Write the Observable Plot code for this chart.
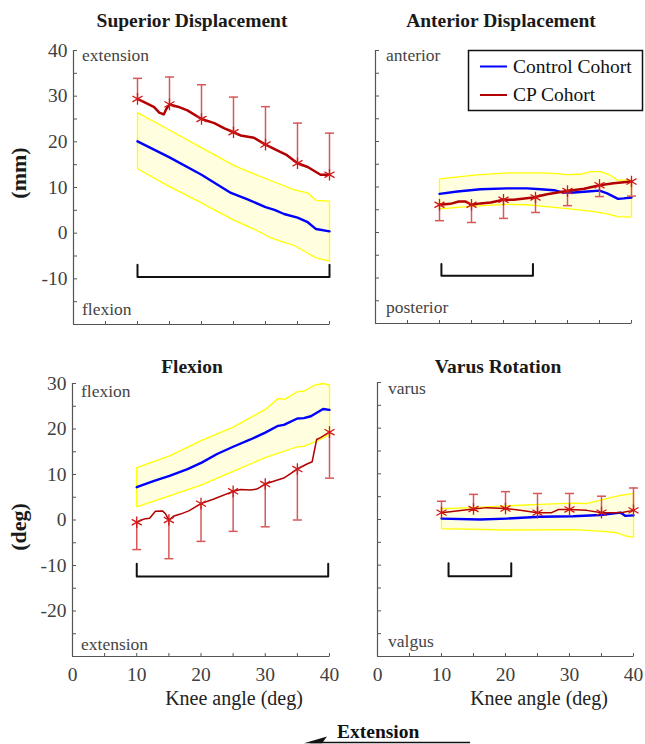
<!DOCTYPE html>
<html><head><meta charset="utf-8">
<script src="https://cdn.jsdelivr.net/npm/d3@7"></script>
<script src="https://cdn.jsdelivr.net/npm/@observablehq/plot@0.6"></script>
<style>
body{margin:0;background:#fff;}
#fig{position:relative;width:645px;height:744px;overflow:hidden;font-family:"Liberation Serif","Times New Roman",serif;}
.panel{position:absolute;}
#overlay{position:absolute;left:0;top:0;pointer-events:none;}
</style></head>
<body><div id="fig"></div>
<script>
// ---------------- data ----------------
const kneeMarks = [10, 15, 20, 25, 30, 35, 40];
const xTickValues = [0, 5, 10, 15, 20, 25, 30, 35, 40];
const xTickLabels = [0, 10, 20, 30, 40];
const topYLabels = [-10, 0, 10, 20, 30, 40];
const botYLabels = [-20, -10, 0, 10, 20, 30];

// Superior Displacement (mm)
const supControl = [[10,20.1],[15,16.6],[20,12.8],[24.6,8.8],[27.2,7.4],[30,5.7],[31.4,5.1],[32.9,4.2],[35,3.4],[36.6,2.4],[37.9,0.9],[40,0.4]];
const supUpper = [[10,26.4],[14.7,22.8],[19.9,18.8],[25.1,14.8],[28.2,13.0],[31.4,11.2],[34.5,9.5],[36.6,8.8],[37.9,7.2],[40,7.0]];
const supLower = [[10,14.1],[14.7,10.4],[19.9,6.7],[25.1,2.8],[28.2,0.9],[30.8,-1.0],[32.4,-1.8],[34.5,-2.7],[36.6,-4.4],[37.9,-5.4],[40,-6.1]];
const supCP = [[10,29.4],[11.6,28.3],[12.6,27.6],[13.4,26.4],[14.1,26.0],[14.5,27.2],[15,28.2],[16.3,27.7],[17.8,26.9],[20,25.0],[22,24.1],[23.5,23.0],[25,22.1],[26.1,21.4],[28.2,20.9],[30,19.4],[31.9,18.1],[33.2,17.2],[35,15.3],[36.6,14.5],[38.6,12.8],[40,12.8]];
const supCPMean = [29.4, 28.2, 25.0, 22.1, 19.4, 15.3, 12.8];
const supCPErr = [33.9, 34.2, 32.5, 29.8, 27.7, 24.1, 21.9];
const supSig = [10, 40];
const supSigY = [-6.9, -9.6];

// Anterior Displacement (mm)
const antControl = [[10,8.5],[12.8,9.0],[16.4,9.5],[20.6,9.7],[23.7,9.7],[25.8,9.5],[27.9,9.3],[29.2,8.8],[31,8.8],[33.1,9.0],[35,9.2],[36.2,8.6],[37.9,7.4],[38.8,7.5],[40,7.7]];
const antUpper = [[10,11.8],[15.4,12.6],[20.6,13.1],[25.8,13.1],[27.9,13.0],[29.9,12.7],[32,12.8],[33.6,13.4],[35.2,13.4],[36.7,12.6],[37.8,11.5],[40,11.5]];
const antLower = [[10,5.2],[15.4,5.8],[20.6,6.2],[23.7,6.1],[27.9,5.5],[31,5.1],[34.1,4.6],[36.2,4.1],[37.8,3.5],[40,3.4]];
const antCP = [[10,6.1],[11.7,6.3],[13,6.8],[14.1,6.8],[15,6.1],[16.4,6.4],[18,6.6],[20,7.2],[21.6,7.2],[24.6,7.7],[26.8,8.4],[29.9,9.1],[32.6,9.6],[35,10.4],[37.2,10.8],[40,11.2]];
const antCPMean = [6.1, 6.1, 7.2, 7.7, 9.1, 10.4, 11.2];
const antCPErr = [2.6, 2.2, 3.1, 4.4, 5.9, 7.9, 8.0];
const antSig = [10.3, 24.6];
const antSigY = [-6.9, -9.5];

// Flexion (deg)
const flxControl = [[10,7.2],[12.7,8.6],[15.1,9.7],[17.9,11.2],[20.1,12.6],[22.5,14.5],[25,16.1],[27.7,17.7],[30,19.2],[32,20.7],[32.9,20.9],[35,22.3],[36,22.4],[37.1,22.8],[39,24.4],[40,24.2]];
const flxUpper = [[10,11.5],[15.1,14.1],[20.1,17.5],[25,20.4],[30,24.3],[32,26.7],[33,26.5],[35,28.2],[36,28.3],[37.6,29.6],[38.9,30.0],[40,29.7]];
const flxLower = [[10,2.9],[15.1,5.3],[20.1,7.7],[25,10.7],[30,13.7],[35,16.1],[36,16.2],[38.1,17.4],[40,18.7]];
const flxCP = [[10,-0.5],[11.1,0.2],[12,0.4],[12.9,1.9],[14,2.0],[14.5,1.3],[15,0.0],[15.8,0.9],[16.8,1.3],[18.1,2.0],[20,3.6],[22,4.6],[25,6.3],[26.2,6.7],[27.7,6.6],[28.7,6.8],[30,7.9],[31.9,8.8],[33,9.3],[35,11.2],[36.5,12.3],[37.3,12.8],[38,17.7],[38.6,18.1],[40,19.3]];
const flxCPMean = [-0.5, 0.0, 3.6, 6.3, 7.9, 11.2, 19.3];
const flxCPErr = [-6.5, -8.5, -4.7, -2.5, -1.5, 0.0, 9.2];
const flxSig = [10, 39.8];
const flxSigY = [-9.6, -12.4];

// Varus Rotation (deg)
const varControl = [[10,0.2],[16,0.0],[20.2,0.2],[25.4,0.6],[30.6,0.7],[34.8,1.0],[38,1.5],[38.7,0.8],[40,0.9]];
const varUpper = [[10,2.4],[15,2.6],[20.1,3.0],[25.4,3.3],[30.6,3.6],[32.7,3.5],[35.3,4.4],[37.9,5.3],[40,5.7]];
const varLower = [[10,-2.0],[20.2,-2.3],[30.6,-2.2],[35.3,-2.6],[37.4,-2.9],[38.7,-3.6],[40,-3.9]];
const varCP = [[10,1.5],[15,2.3],[17.1,2.6],[20,2.4],[22.3,2.0],[25,1.5],[27.2,1.5],[28.3,2.2],[30,2.2],[32.7,2.0],[35,1.5],[37.4,1.5],[38.4,1.6],[40,2.0]];
const varCPMean = [1.5, 2.3, 2.4, 1.5, 2.2, 1.5, 2.0];
const varCPErr = [4.0, 5.5, 6.1, 5.7, 5.7, 5.1, 6.9];
const varSig = [11.1, 20.9];
const varSigY = [-9.6, -12.4];

// ---------------- drawing ----------------
const FONT = '"Liberation Serif","Times New Roman",serif';
const AXIS = "#555";
const capSymbol = {draw(ctx) { ctx.moveTo(-4.5, 0); ctx.lineTo(4.5, 0); }};
const yTickSym = {draw(ctx) { ctx.moveTo(0, 0); ctx.lineTo(3.5, 0); }};
const xTickSym = {draw(ctx) { ctx.moveTo(0, 0); ctx.lineTo(0, -3.5); }};
const fig = document.getElementById("fig");

function panel(cfg) {
  const rows = kneeMarks.map((k, i) => ({x: k, m: cfg.mean[i], e: cfg.err[i]}));
  const poly = [...cfg.upper, ...cfg.lower.slice().reverse(), cfg.upper[0]];
  const [s0, s1] = cfg.sig, [b0, b1] = cfg.sigY;
  const bracket = [[s0, b0], [s0, b1], [s1, b1], [s1, b0]];
  const yTicks = d3.range(cfg.yDomain[0], cfg.yDomain[1] + 0.1, 5);
  const px = d => d[0], py = d => d[1];
  const marks = [
    Plot.line(poly, {x: px, y: py, fill: "#ffffe0", stroke: "#ffff00", strokeWidth: 1.3}),
    Plot.line(cfg.control, {x: px, y: py, stroke: "#0000ff", strokeWidth: 2.4}),
    Plot.ruleX(rows, {x: "x", y1: "m", y2: "e", stroke: "#d85858", strokeWidth: 1.5}),
    Plot.dot(rows, {x: "x", y: "e", symbol: capSymbol, fill: "none", stroke: "#d85858", strokeWidth: 1.5}),
    Plot.line(cfg.cp, {x: px, y: py, stroke: "#b30000", strokeWidth: cfg.cpWidth}),
    Plot.dot(rows, {x: "x", y: "m", symbol: "asterisk", r: 5.5, fill: "none", stroke: "#d01818", strokeWidth: 1.3}),
    Plot.line(bracket, {x: px, y: py, stroke: "#111", strokeWidth: 2}),
    Plot.ruleX([0], {stroke: AXIS, strokeWidth: 1.2}),
    Plot.ruleY([cfg.yDomain[0]], {stroke: AXIS, strokeWidth: 1.2}),
    Plot.dot(yTicks, {x: () => 0, y: d => d, symbol: yTickSym, fill: "none", stroke: AXIS, strokeWidth: 1}),
    Plot.dot(xTickValues, {x: d => d, y: () => cfg.yDomain[0], symbol: xTickSym, fill: "none", stroke: AXIS, strokeWidth: 1})
  ];
  if (cfg.yLabels) marks.push(Plot.axisY(cfg.yLabels, {tickSize: 0, tickPadding: 6, fontSize: 19.5, tickFormat: d => String(d), label: null}));
  if (cfg.xLabels) marks.push(Plot.axisX(cfg.xLabels, {tickSize: 0, tickPadding: 11, fontSize: 19.5, tickFormat: d => String(d), label: null}));
  const svg = Plot.plot({
    width: cfg.w, height: cfg.h,
    marginLeft: cfg.ml, marginRight: cfg.mr, marginTop: cfg.mt, marginBottom: cfg.mb,
    x: {domain: [0, 40], axis: null},
    y: {domain: cfg.yDomain, axis: null},
    style: {fontFamily: FONT, fontSize: "19.5px", color: "#404040", background: "transparent", overflow: "visible"},
    marks
  });
  const div = document.createElement("div");
  div.className = "panel";
  div.style.left = cfg.left + "px"; div.style.top = cfg.top + "px";
  div.appendChild(svg);
  fig.appendChild(div);
}

panel({left: 0, top: 0, w: 340, h: 340, ml: 73, mr: 11, mt: 50, mb: 16, yDomain: [-20, 40],
  control: supControl, upper: supUpper, lower: supLower, cp: supCP, mean: supCPMean, err: supCPErr,
  sig: supSig, sigY: supSigY, cpWidth: 2.5, yLabels: topYLabels});
panel({left: 340, top: 0, w: 305, h: 340, ml: 35, mr: 14, mt: 50, mb: 17, yDomain: [-20, 40],
  control: antControl, upper: antUpper, lower: antLower, cp: antCP, mean: antCPMean, err: antCPErr,
  sig: antSig, sigY: antSigY, cpWidth: 2.5});
panel({left: 0, top: 340, w: 340, h: 404, ml: 72, mr: 11, mt: 43, mb: 88, yDomain: [-30, 30],
  control: flxControl, upper: flxUpper, lower: flxLower, cp: flxCP, mean: flxCPMean, err: flxCPErr,
  sig: flxSig, sigY: flxSigY, cpWidth: 1.5, yLabels: botYLabels, xLabels: xTickLabels});
panel({left: 340, top: 340, w: 305, h: 404, ml: 37, mr: 12, mt: 42, mb: 88, yDomain: [-30, 30],
  control: varControl, upper: varUpper, lower: varLower, cp: varCP, mean: varCPMean, err: varCPErr,
  sig: varSig, sigY: varSigY, cpWidth: 1.5, xLabels: xTickLabels});

// ---------------- text overlay ----------------
const ov = d3.create("svg").attr("id", "overlay").attr("width", 645).attr("height", 744)
  .style("font-family", FONT);
function txt(s, x, y, opt = {}) {
  const t = ov.append("text").attr("x", x).attr("y", y).text(s)
    .attr("font-family", FONT)
    .attr("font-size", opt.size || 19).attr("fill", opt.fill || "#111")
    .attr("text-anchor", opt.anchor || "start");
  if (opt.bold) t.attr("font-weight", "bold");
  if (opt.rotate) t.attr("transform", `rotate(-90 ${x} ${y})`).attr("dy", "0.35em");
  return t;
}
const titles = [["Superior Displacement", 192, 27], ["Anterior Displacement", 501, 27], ["Flexion", 192, 373], ["Varus Rotation", 498, 373]];
titles.forEach(([s, x, y]) => txt(s, x, y, {bold: true, anchor: "middle", size: 19.5, fill: "#1a1a1a"}));
txt("(mm)", 18, 173, {bold: true, anchor: "middle", rotate: true, size: 22, fill: "#1a1a1a"});
txt("(deg)", 18, 527, {bold: true, anchor: "middle", rotate: true, size: 22, fill: "#1a1a1a"});
txt("Knee angle (deg)", 234, 705, {anchor: "middle", fill: "#222", size: 20});
txt("Knee angle (deg)", 539, 705, {anchor: "middle", fill: "#222", size: 20});
const notes = [["extension", 82, 61], ["flexion", 82, 315], ["anterior", 386, 61], ["posterior", 386, 313],
  ["flexion", 81, 397], ["extension", 81, 650], ["varus", 388, 394], ["valgus", 388, 647]];
notes.forEach(([s, x, y]) => txt(s, x, y, {size: 17.5, fill: "#444"}));

// legend
ov.append("rect").attr("x", 468.5).attr("y", 50.5).attr("width", 174).attr("height", 60)
  .attr("fill", "#fff").attr("stroke", "#111").attr("stroke-width", 1.5);
ov.append("line").attr("x1", 480).attr("x2", 507).attr("y1", 66.5).attr("y2", 66.5).attr("stroke", "#0000ff").attr("stroke-width", 2);
ov.append("line").attr("x1", 480).attr("x2", 507).attr("y1", 95).attr("y2", 95).attr("stroke", "#b30000").attr("stroke-width", 2);
txt("Control Cohort", 513, 73, {size: 19.5, fill: "#111"});
txt("CP Cohort", 513, 101, {size: 19.5, fill: "#111"});

// extension arrow
ov.append("line").attr("x1", 310).attr("x2", 470).attr("y1", 742.5).attr("y2", 742.5).attr("stroke", "#111").attr("stroke-width", 1.5);
ov.append("path").attr("d", "M304,743.2 L327,736.5 L322,743.2 Z").attr("fill", "#111");
txt("Extension", 337, 738, {bold: true, size: 19.5, fill: "#111"});

fig.appendChild(ov.node());
</script>
</body></html>
